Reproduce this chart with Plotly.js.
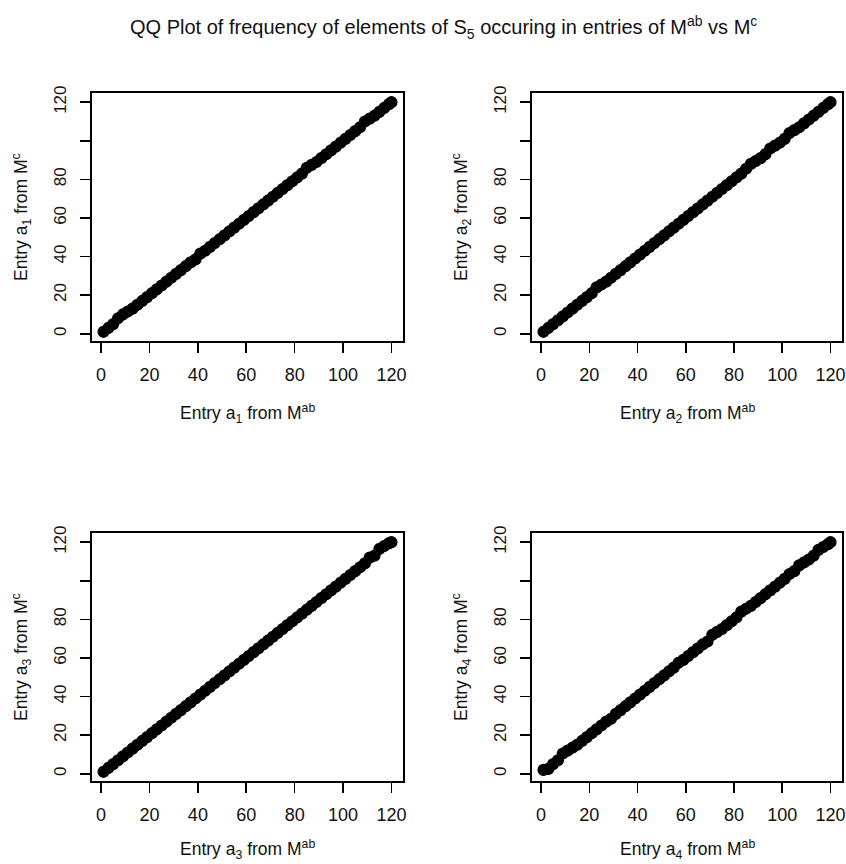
<!DOCTYPE html>
<html><head><meta charset="utf-8">
<script src="https://cdn.plot.ly/plotly-3.0.1.min.js"></script>
<style>body{margin:0;background:#fff}#chart{width:846px;height:864px}</style>
</head><body><div id="chart"></div>
<script>
// Quantiles of entries from M^ab (shared x grid) and matching quantiles from M^c
const quantAB = [1,3,5,7,9,11,13,15,17,19,21,23,25,27,29,31,33,35,37,39,41,43,45,47,49,51,53,55,57,59,61,63,65,67,69,71,73,75,77,79,81,83,85,87,89,91,93,95,97,99,101,103,105,107,109,111,113,115,117,119,120];
const entryA1 = [1,3,5,8,10,11.5,13,15,17,19,21,23,25,27,29,31,33,35,37,38.5,41.5,43,45,47,49,51,53,55,57,59,61,63,65,67,69,71,73,75,77,79,81,83,86,87.5,89,91,93,95,97,99,101,103,105,107,110,111.5,113,115,117,119,120];
const entryA2 = [1,3,5,7,9,11,13,15,17,19,21,24,25.5,27,29,31,33,35,37,39,41,43,45,47,49,51,53,55,57,59,61,63,65,67,69,71,73,75,77,79,81,83,85.5,88,89.5,91,93,96,97.5,99,101,104,105.5,107,109,111,113,115,117,119,120];
const entryA3 = [1,3,5,7,9,11,13,15,17,19,21,23,25,27,29,31,33,35,37,39,41,43,45,47,49,51,53,55,57,59,61,63,65,67,69,71,73,75,77,79,81,83,85,87,89,91,93,95,97,99,101,103,105,107,109,112,113,116.5,118,119.5,120];
const entryA4 = [2,2.5,5,7,10.5,12,13.5,15,17,19,21,23,25,27,28.5,31,33,35,37,39,41,43,45,47,49,51,53,55,57.5,59,61,63,65,67,68.5,72,73.5,75,77,79,81,84,85.5,87,89,91,93,95,97,99,101,103.5,105,108,109.5,111,113,116,117.5,119,120];

const tickVals = [0,20,40,60,80,100,120];
const xTickText = ['0','20','40','60','80','100','120'];
const yTickText = ['0','20','40','60','80','','120'];

const mainTitle = 'QQ Plot of frequency of elements of S<sub>5</sub> occuring in entries of M<sup>ab</sup> vs M<sup>c</sup>';
const xTitles = ['Entry a<sub>1</sub> from M<sup>ab</sup>','Entry a<sub>2</sub> from M<sup>ab</sup>','Entry a<sub>3</sub> from M<sup>ab</sup>','Entry a<sub>4</sub> from M<sup>ab</sup>'];
const yTitles = ['Entry a<sub>1</sub> from M<sup>c</sup>','Entry a<sub>2</sub> from M<sup>c</sup>','Entry a<sub>3</sub> from M<sup>c</sup>','Entry a<sub>4</sub> from M<sup>c</sup>'];
const series = [entryA1, entryA2, entryA3, entryA4];

const W = 846, H = 864;
const FONT = 'Liberation Sans, Arial, sans-serif';
const INK = '#111';
// panel boxes in pixels: [left, right, top, bottom]
const boxes = [[92,403,93,341],[532,842,93,341],[92,403,533,781],[532,842,533,781]];
const xTitleOffset = [72, 72, 68, 68];

const traces = [];
const layout = {
  width: W, height: H, margin:{l:0,r:0,t:0,b:0},
  paper_bgcolor:'#fff', plot_bgcolor:'#fff', showlegend:false,
  font:{family:FONT, color:INK},
  annotations: []
};
const range = [-3.76, 124.76];
series.forEach((ys, i) => {
  const n = i + 1;
  const xa = n === 1 ? 'x' : 'x' + n, ya = n === 1 ? 'y' : 'y' + n;
  traces.push({type:'scatter', mode:'markers', x: quantAB, y: ys, xaxis: xa, yaxis: ya,
    marker:{symbol:'circle', size:11, color:'#000', line:{color:'#000', width:1.2}}, hoverinfo:'skip'});
  const b = boxes[i];
  const common = {range: range, showgrid:false, zeroline:false, showline:true, mirror:true,
    linecolor:'#000', linewidth:1.8, ticks:'outside', ticklen:10, tickwidth:1.6, tickcolor:'#000',
    tickmode:'array', tickvals: tickVals, fixedrange:true};
  layout['xaxis' + (n===1?'':n)] = Object.assign({}, common, {
    domain:[b[0]/W, b[1]/W], anchor: ya, ticktext: xTickText, ticklabelstandoff: 7,
    tickfont:{family:FONT, size:18, color:INK}});
  layout['yaxis' + (n===1?'':n)] = Object.assign({}, common, {
    domain:[1-b[3]/H, 1-b[2]/H], anchor: xa, ticktext: yTickText, tickangle:-90, ticklabelstandoff: 7,
    tickfont:{family:FONT, size:17, color:INK}});
  layout.annotations.push({xref:'paper', yref:'paper', x:(b[0]+b[1])/2/W, y:1-(b[3]+xTitleOffset[i])/H,
    text: xTitles[i], showarrow:false, xanchor:'center', yanchor:'middle', font:{family:FONT, size:17.5, color:INK}});
  layout.annotations.push({xref:'paper', yref:'paper', x:(b[0]-71)/W, y:1-(b[2]+b[3])/2/H,
    text: yTitles[i], showarrow:false, textangle:-90, xanchor:'center', yanchor:'middle', font:{family:FONT, size:17.5, color:INK}});
});
layout.annotations.push({xref:'paper', yref:'paper', x:443/W, y:1-27/H, text: mainTitle, showarrow:false,
  xanchor:'center', yanchor:'middle', font:{family:FONT, size:20, color:INK}});

Plotly.newPlot('chart', traces, layout, {displayModeBar:false, staticPlot:true});
</script></body></html>
